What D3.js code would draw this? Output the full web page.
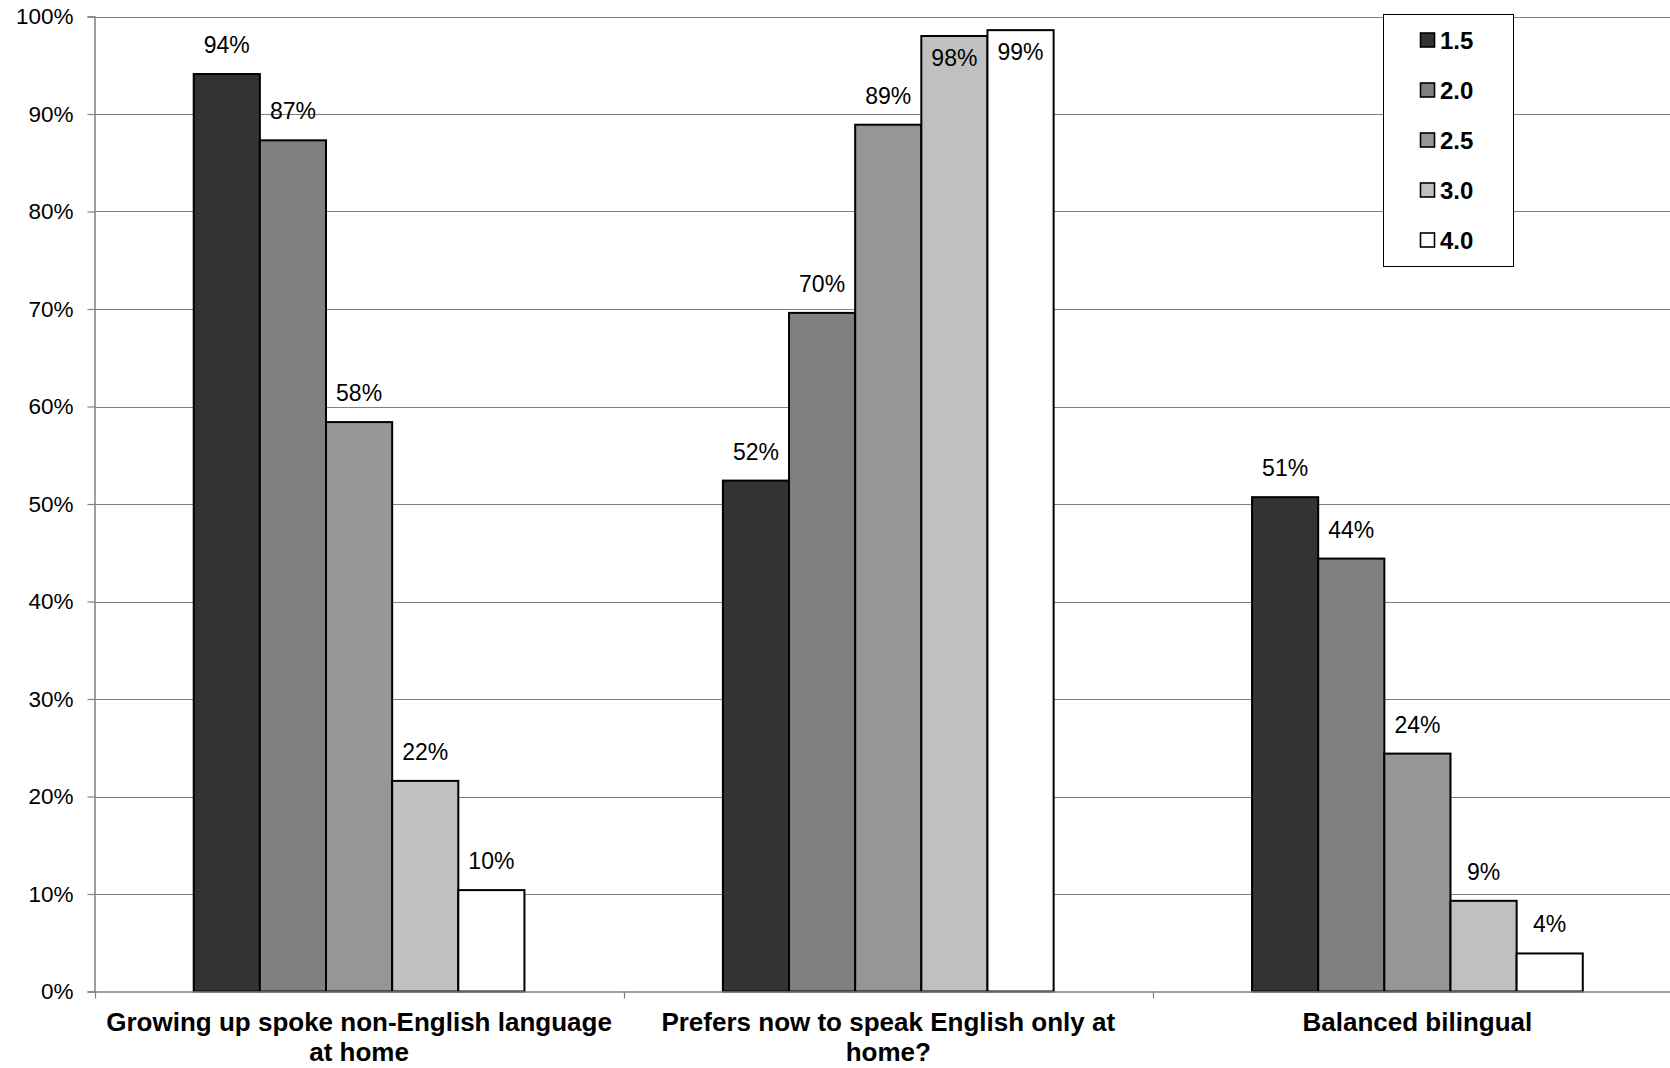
<!DOCTYPE html>
<html>
<head>
<meta charset="utf-8">
<script src="https://cdn.jsdelivr.net/npm/d3@7"></script>
<style>
  html, body { margin: 0; padding: 0; background: #fff; }
  svg { display: block; font-family: "Liberation Sans", Arial, sans-serif; }
</style>
</head>
<body>
<svg id="chart" width="1670" height="1068"></svg>
<script>
const categories = [
  "Growing up spoke non-English language at home",
  "Prefers now to speak English only at home?",
  "Balanced bilingual"
];
const seriesNames = ["1.5", "2.0", "2.5", "3.0", "4.0"];
const values_1_5 = [0.941, 0.524, 0.507];
const values_2_0 = [0.873, 0.696, 0.444];
const values_2_5 = [0.584, 0.889, 0.244];
const values_3_0 = [0.216, 0.980, 0.093];
const values_4_0 = [0.104, 0.986, 0.039];
const yTickValues = [0, 0.1, 0.2, 0.3, 0.4, 0.5, 0.6, 0.7, 0.8, 0.9, 1.0];
const seriesColors = ["#333333", "#808080", "#969696", "#c0c0c0", "#ffffff"];

(function () {
const seriesValues = [values_1_5, values_2_0, values_2_5, values_3_0, values_4_0];
const data = categories.map((c, ci) => ({
  category: c,
  bars: seriesNames.map((s, si) => ({ series: s, value: seriesValues[si][ci], si }))
}));

const svg = d3.select("#chart");
const pLeft = 94.5, pTop = 16.5, pBottom = 991.5, pRight = 1682;

const x0 = d3.scaleBand().domain(categories).range([pLeft, pRight]).paddingInner(0).paddingOuter(0);
const x1 = d3.scaleBand().domain(seriesNames).range([0, x0.bandwidth()]).paddingInner(0).paddingOuter(1.5);
const y = d3.scaleLinear().domain([0, 1]).range([pBottom, pTop]);
const color = d3.scaleOrdinal().domain(seriesNames).range(seriesColors);

// gridlines
svg.append("g")
  .selectAll("line")
  .data(yTickValues.filter(v => v > 0))
  .join("line")
  .attr("x1", pLeft).attr("x2", pRight)
  .attr("y1", d => Math.round(y(d)) + 0.5).attr("y2", d => Math.round(y(d)) + 0.5)
  .attr("stroke", "#808080").attr("stroke-width", 1.2);

// y axis
const yAxis = d3.axisLeft(y).tickValues(yTickValues).tickFormat(d3.format(".0%")).tickSizeOuter(0).tickSize(7).tickPadding(14);
const gy = svg.append("g").attr("transform", `translate(${pLeft},0)`).call(yAxis);
gy.select(".domain").attr("stroke", "#808080").attr("stroke-width", 1.5);
gy.selectAll(".tick line").attr("stroke", "#808080").attr("stroke-width", 1.2);
gy.selectAll(".tick text").attr("font-size", 22.5).attr("fill", "#000")
  .attr("font-family", "Liberation Sans, Arial, sans-serif");

// bars
const groups = svg.append("g").selectAll("g")
  .data(data).join("g")
  .attr("transform", d => `translate(${x0(d.category)},0)`);

groups.selectAll("rect")
  .data(d => d.bars).join("rect")
  .attr("x", d => x1(d.series))
  .attr("y", d => y(d.value))
  .attr("width", x1.bandwidth())
  .attr("height", d => pBottom - y(d.value))
  .attr("fill", d => color(d.series))
  .attr("stroke", "#000").attr("stroke-width", 2);

// value labels
groups.selectAll("text.val")
  .data(d => d.bars).join("text")
  .attr("class", "val")
  .attr("x", d => x1(d.series) + x1.bandwidth() / 2)
  .attr("y", d => {
    const yt = y(d.value);
    return (yt - 21 - 16 < pTop) ? yt + 30 : yt - 21;
  })
  .attr("text-anchor", "middle")
  .attr("font-size", 23)
  .attr("fill", "#000")
  .text(d => d3.format(".0%")(d.value));

// x axis
const xAxis = d3.axisBottom(x0).tickSize(0).tickFormat("");
const gx = svg.append("g").attr("transform", `translate(0,${pBottom})`).call(xAxis);
gx.select(".domain").attr("stroke", "#808080").attr("stroke-width", 1.5);
// category boundary ticks
svg.append("g").selectAll("line")
  .data(categories)
  .join("line")
  .attr("x1", d => Math.round(x0(d)) + 0.5).attr("x2", d => Math.round(x0(d)) + 0.5)
  .attr("y1", pBottom).attr("y2", pBottom + 7)
  .attr("stroke", "#808080").attr("stroke-width", 1.2);

// category labels, wrapped
const maxW = x0.bandwidth() - 8;
categories.forEach(c => {
  const cx = x0(c) + x0.bandwidth() / 2;
  const t = svg.append("text")
    .attr("x", cx).attr("y", 1031)
    .attr("text-anchor", "middle")
    .attr("font-size", 26).attr("font-weight", "bold").attr("fill", "#000");
  const words = c.split(" ");
  let line = [];
  let lineNo = 0;
  let tspan = t.append("tspan").attr("x", cx).attr("y", 1031);
  words.forEach(w => {
    line.push(w);
    tspan.text(line.join(" "));
    if (tspan.node().getComputedTextLength() > maxW && line.length > 1) {
      line.pop();
      tspan.text(line.join(" "));
      line = [w];
      lineNo++;
      tspan = t.append("tspan").attr("x", cx).attr("y", 1031 + lineNo * 30).text(w);
    }
  });
});

// legend
const lg = svg.append("g");
lg.append("rect")
  .attr("x", 1383.5).attr("y", 14.5).attr("width", 130).attr("height", 252)
  .attr("fill", "#fff").attr("stroke", "#000").attr("stroke-width", 1);
const items = lg.selectAll("g.item").data(seriesNames).join("g")
  .attr("class", "item")
  .attr("transform", (d, i) => `translate(1420,${40 + i * 50})`);
items.append("rect")
  .attr("x", 0.5).attr("y", -7).attr("width", 14).attr("height", 14)
  .attr("fill", d => color(d)).attr("stroke", "#000").attr("stroke-width", 1.6);
items.append("text")
  .attr("x", 20).attr("y", 8.5)
  .attr("font-size", 24).attr("font-weight", "bold").attr("fill", "#000")
  .text(d => d);
})();
</script>
</body>
</html>
